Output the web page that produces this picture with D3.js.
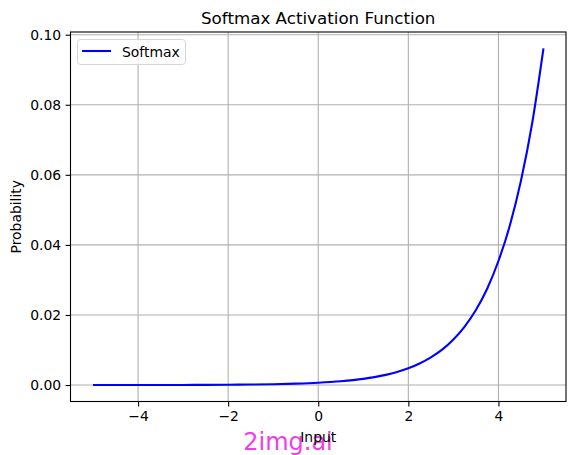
<!DOCTYPE html>
<html><head><meta charset="utf-8">
<script src="https://cdn.jsdelivr.net/npm/d3@7"></script>
<style>body{margin:0;background:#fff}svg{display:block;font-family:"DejaVu Sans",sans-serif}</style>
</head><body>
<svg id="c" width="576" height="455"></svg>
<script>
const xValues = [-5,-4.5,-4,-3.5,-3,-2.5,-2,-1.5,-1,-0.5,0,0.5,1,1.25,1.5,1.75,2,2.25,2.5,2.75,3,3.25,3.5,3.75,4,4.25,4.5,4.75,5];
const yValues = [0.0000044,0.0000072,0.0000118,0.0000195,0.0000322,0.000053,0.0000876,0.000144,0.000238,0.000393,0.000648,0.00107,0.00176,0.00226,0.0029,0.00373,0.00478,0.00614,0.00789,0.0101,0.013,0.0167,0.0214,0.0275,0.0354,0.0454,0.0583,0.0748,0.0961];
const xTicks = [-4,-2,0,2,4];
const yTicks = [0,0.02,0.04,0.06,0.08,0.10];
const seriesName = "Softmax";

const svg = d3.select("#c");
const L=70.5, R=566, T=32, B=401.5;
const x = d3.scaleLinear().domain([-5.5,5.5]).range([L,R]);
const y = d3.scaleLinear().domain([-0.0047,0.10077]).range([B,T]);

// grid
svg.append("g").selectAll("line").data(xTicks).join("line")
  .attr("x1",d=>x(d)).attr("x2",d=>x(d)).attr("y1",T).attr("y2",B)
  .attr("stroke","#b0b0b0").attr("stroke-width",1.1);
svg.append("g").selectAll("line").data(yTicks).join("line")
  .attr("y1",d=>y(d)).attr("y2",d=>y(d)).attr("x1",L).attr("x2",R)
  .attr("stroke","#b0b0b0").attr("stroke-width",1.1);

// line
const pts = xValues.map((v,i)=>[v,yValues[i]]);
svg.append("path").datum(pts)
  .attr("d", d3.line().x(d=>x(d[0])).y(d=>y(d[1])).curve(d3.curveMonotoneX))
  .attr("fill","none").attr("stroke","#0000ff").attr("stroke-width",2.08);

// axes
const xa = svg.append("g").attr("transform",`translate(0,${B})`)
  .call(d3.axisBottom(x).tickValues(xTicks).tickSize(4.9).tickPadding(4.5).tickFormat(d=>d3.format("")(d).replace("-","\u2212")));
const ya = svg.append("g").attr("transform",`translate(${L},0)`)
  .call(d3.axisLeft(y).tickValues(yTicks).tickSize(4.9).tickPadding(4.5).tickFormat(d3.format(".2f")));
[xa,ya].forEach(g=>{
  g.select(".domain").remove();
  g.selectAll("text").attr("font-size",13.9).attr("fill","#000").attr("font-family","DejaVu Sans");
  g.selectAll("line").attr("stroke","#000").attr("stroke-width",1.1);
});
svg.append("rect").attr("x",L).attr("y",T).attr("width",R-L).attr("height",B-T)
  .attr("fill","none").attr("stroke","#000").attr("stroke-width",1.1);

// watermark (under the label)
svg.append("text").attr("x",288).attr("y",450).attr("text-anchor","middle")
  .attr("font-size",24).attr("fill","#ee3ee6").text("2img.ai");

// title & labels
svg.append("text").attr("x",(L+R)/2).attr("y",24).attr("text-anchor","middle")
  .attr("font-size",16.7).text("Softmax Activation Function");
svg.append("text").attr("x",(L+R)/2).attr("y",442).attr("text-anchor","middle")
  .attr("font-size",13.9).text("Input");
svg.append("text").attr("transform",`translate(21,${(T+B)/2}) rotate(-90)`).attr("text-anchor","middle")
  .attr("font-size",13.9).text("Probability");

// legend
const lg = svg.append("g");
lg.append("rect").attr("x",77.5).attr("y",39.5).attr("width",108).attr("height",25).attr("rx",3)
  .attr("fill","#fff").attr("fill-opacity",0.8).attr("stroke","#d6d6d6").attr("stroke-width",1);
lg.append("line").attr("x1",82).attr("x2",111).attr("y1",51).attr("y2",51)
  .attr("stroke","#0000ff").attr("stroke-width",2.08);
lg.append("text").attr("x",122).attr("y",56.5).attr("font-size",13.9).text(seriesName);
</script>
</body></html>
